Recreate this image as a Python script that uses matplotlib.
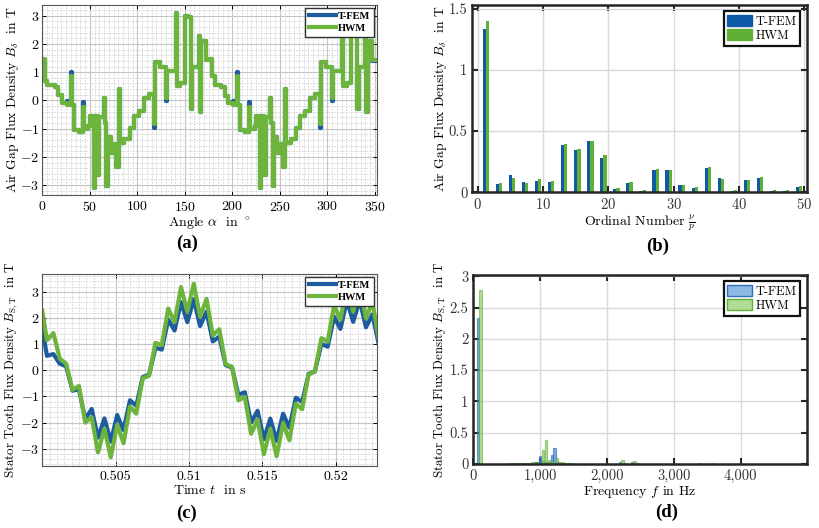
import matplotlib
matplotlib.use("Agg")
import matplotlib.pyplot as plt
import numpy as np
from matplotlib.ticker import AutoMinorLocator, FuncFormatter
from matplotlib.patches import Patch

plt.rcParams['font.family'] = ['cmr10', 'DejaVu Serif']
plt.rcParams['mathtext.fontset'] = 'cm'
plt.rcParams['axes.formatter.use_mathtext'] = True
plt.rcParams['font.size'] = 10

# (a) air gap flux density over the angle (step values)
alpha_deg = [0.0, 2.5, 5.0, 13.0, 16.8, 20.3, 26.0, 30.0, 31.2, 33.5, 38.5, 42.5, 43.7, 48.5,
             50.5, 54.0, 55.5, 58.5, 60.0, 64.5, 65.8, 67.5, 69.0, 72.5, 75.5, 78.0, 80.5,
             82.0, 86.5, 92.0, 96.5, 102.0, 107.0, 112.0, 117.5, 118.7, 124.0, 130.0, 131.3,
             140.5, 141.8, 145.5, 150.5, 153.5, 156.5, 158.0, 164.5, 166.0, 167.5, 172.5,
             175.0, 179.0, 182.0, 188.0, 192.0, 195.3, 201.0, 205.0, 206.2, 208.5, 213.5,
             217.5, 218.7, 223.5, 225.5, 229.0, 230.5, 233.5, 235.0, 239.5, 240.8, 242.5,
             244.0, 247.5, 250.5, 253.0, 255.5, 257.0, 261.5, 267.0, 271.5, 277.0, 282.0,
             287.0, 292.5, 293.7, 299.0, 305.0, 306.3, 315.5, 316.8, 320.5, 325.5, 328.5,
             331.5, 333.0, 339.5, 341.0, 342.5, 347.5, 352.0]
b_delta_hwm = [1.45, 0.70, 0.55, 0.48, 0.20, -0.08, -0.15, 0.85, -0.15, -1.05, -1.12, -0.25, -1.00, -0.90,
               -0.55, -3.10, -0.55, -2.65, -0.60, 0.10, -0.80, -3.02, -1.30, -1.85, -1.55, -2.37, 0.40,
               -1.50, -1.38, -0.98, -0.55, -0.37, 0.08, 0.22, -0.82, 1.35, 1.18, 0.10, 1.06,
               3.10, 0.50, 0.62, 2.98, 2.95, -0.30, 1.20, 2.30, -0.40, 2.12, 1.42,
               1.45, 0.85, 0.55, 0.46, 0.15, -0.08, -0.15, 0.85, -0.15, -1.05, -1.12,
               -0.25, -1.00, -0.90, -0.55, -3.10, -0.55, -2.65, -0.60, 0.10, -0.80, -3.02,
               -1.30, -1.85, -1.55, -2.37, 0.40, -1.50, -1.38, -0.98, -0.55, -0.37, 0.08,
               0.22, -0.82, 1.35, 1.18, 0.10, 1.06, 3.10, 0.50, 0.62, 2.98, 2.95,
               -0.30, 1.20, 2.30, -0.40, 2.12, 1.42, 1.42]
b_delta_fem = [1.40, 0.70, 0.55, 0.48, 0.20, -0.08, -0.02, 1.00, -0.15, -1.05, -1.12, -0.05, -1.00, -0.90,
               -0.55, -3.10, -0.55, -2.65, -0.60, 0.10, -0.80, -3.02, -1.30, -1.85, -1.55, -2.37, 0.40,
               -1.50, -1.38, -0.98, -0.55, -0.37, 0.08, 0.22, -0.98, 1.35, 1.18, -0.02, 1.06,
               3.10, 0.50, 0.62, 2.98, 2.95, -0.30, 1.20, 2.30, -0.40, 2.12, 1.42,
               1.45, 0.85, 0.55, 0.46, 0.15, -0.08, -0.02, 1.00, -0.15, -1.05, -1.12,
               -0.05, -1.00, -0.90, -0.55, -3.10, -0.55, -2.65, -0.60, 0.10, -0.80, -3.02,
               -1.30, -1.85, -1.55, -2.37, 0.40, -1.50, -1.38, -0.98, -0.55, -0.37, 0.08,
               0.22, -0.98, 1.35, 1.18, -0.02, 1.06, 3.10, 0.50, 0.62, 2.98, 2.95,
               -0.30, 1.20, 2.30, -0.40, 2.12, 1.38, 1.38]

# (b) harmonic spectrum of the air gap flux density
order_nu = [1, 3, 5, 7, 9, 11, 13, 15, 17, 19, 21, 23, 25, 27, 29, 31, 33, 35, 37, 39, 41, 43, 45, 47, 49]
amp_fem_b = [1.33, 0.066, 0.143, 0.082, 0.093, 0.085, 0.39, 0.346, 0.415, 0.283, 0.027, 0.077, 0.011,
             0.179, 0.184, 0.058, 0.038, 0.195, 0.118, 0.011, 0.102, 0.113, 0.011, 0.011, 0.041]
amp_hwm_b = [1.40, 0.08, 0.115, 0.077, 0.107, 0.093, 0.398, 0.354, 0.423, 0.308, 0.033, 0.082, 0.016,
             0.192, 0.184, 0.058, 0.041, 0.209, 0.11, 0.016, 0.102, 0.124, 0.016, 0.019, 0.052]

# (c) stator tooth flux density over time
t_sec = [0.50000, 0.50032, 0.50076, 0.50119, 0.50163, 0.50206, 0.50250, 0.50293, 0.50337, 0.50380,
         0.50424, 0.50467, 0.50511, 0.50554, 0.50598, 0.50641, 0.50685, 0.50728, 0.50772, 0.50815,
         0.50859, 0.50902, 0.50946, 0.50989, 0.51033, 0.51076, 0.51120, 0.51163, 0.51207, 0.51250,
         0.51294, 0.51337, 0.51381, 0.51424, 0.51468, 0.51511, 0.51555, 0.51598, 0.51642, 0.51685,
         0.51729, 0.51772, 0.51816, 0.51859, 0.51903, 0.51946, 0.51990, 0.52033, 0.52077, 0.52120,
         0.52164, 0.52207, 0.52251, 0.52294]
b_st_fem = [1.60, 0.55, 0.62, 0.25, 0.15, -0.78, -0.73, -1.87, -1.48, -2.58,
            -1.84, -2.73, -1.71, -2.29, -1.15, -1.36, -0.26, -0.17, 0.86, 0.79,
            1.94, 1.52, 2.61, 1.84, 2.72, 1.69, 2.24, 1.10, 1.29, 0.20,
            0.10, -0.94, -0.84, -2.00, -1.55, -2.64, -1.85, -2.70, -1.66, -2.20,
            -1.05, -1.22, -0.14, -0.04, 1.01, 0.90, 2.05, 1.58, 2.66, 1.85,
            2.69, 1.64, 2.14, 1.00]
b_st_hwm = [2.28, 1.15, 1.42, 0.45, 0.25, -0.75, -0.60, -2.00, -1.80, -3.14,
            -2.23, -3.33, -2.08, -2.79, -1.39, -1.66, -0.31, -0.21, 1.05, 0.96,
            2.36, 1.84, 3.18, 2.24, 3.31, 2.05, 2.73, 1.33, 1.57, 0.24,
            0.13, -1.15, -1.02, -2.43, -1.88, -3.21, -2.24, -3.29, -2.02, -2.68,
            -1.28, -1.49, -0.16, -0.05, 1.23, 1.09, 2.50, 1.93, 3.24, 2.25,
            3.28, 1.99, 2.61, 1.21]

# (d) spectrum of the stator tooth flux density
freq_fem = [68, 620, 710, 800, 880, 930, 960, 1000, 1045, 1090, 1130, 1175, 1215, 1260, 1300,
            2200, 2375, 2420]
amp_fem_d = [2.33, 0.01, 0.01, 0.015, 0.02, 0.025, 0.03, 0.13, 0.05, 0.04, 0.03, 0.15, 0.26, 0.04, 0.02,
             0.03, 0.035, 0.02]
freq_hwm = [105, 530, 575, 620, 660, 705, 750, 795, 840, 880, 925, 970, 1040, 1085, 1130, 1175, 1250,
            1300, 1345, 1390, 1435, 1480, 2235, 2280, 2410, 2455, 3390, 3570]
amp_hwm_d = [2.78, 0.01, 0.012, 0.015, 0.015, 0.015, 0.018, 0.02, 0.022, 0.025, 0.03, 0.04, 0.23, 0.39,
             0.06, 0.05, 0.09, 0.04, 0.03, 0.02, 0.015, 0.01, 0.065, 0.02, 0.045, 0.02, 0.012, 0.015]

BLUE = '#0f5aa6'
GREEN = '#5fb035'
LBLUE = '#1d5c9f'
LGREEN = '#6db43c'

fig = plt.figure(figsize=(8.19, 5.28), dpi=100)


def line_axes(ax):
    for s in ax.spines.values():
        s.set_color('#555555')
        s.set_linewidth(0.8)
    ax.xaxis.set_minor_locator(AutoMinorLocator(10))
    ax.yaxis.set_minor_locator(AutoMinorLocator(5))
    ax.grid(which='major', color='#c4c4c4', lw=0.8)
    ax.grid(which='minor', color='#d2d2d2', lw=0.6, ls=(0, (2, 1.5)))
    ax.tick_params(which='both', direction='in', top=True, right=True, labelsize=10)
    ax.tick_params(which='major', length=3, width=0.7)
    ax.tick_params(axis='y', pad=2)
    ax.tick_params(which='minor', length=0)
    ax.set_axisbelow(True)
    leg = ax.legend(loc='upper right', prop=dict(family='Liberation Serif', weight='bold', size=7.5),
                    fancybox=False, edgecolor='#333333', framealpha=1, handlelength=2.6,
                    borderpad=0.35, labelspacing=0.3, borderaxespad=0.25, handletextpad=0.2)
    leg.get_frame().set_linewidth(1.0)


def bar_axes(ax, handles):
    for s in ax.spines.values():
        s.set_color('#262626')
        s.set_linewidth(1.8)
    ax.grid(which='major', color='#d9d9d9', lw=1.0)
    ax.set_axisbelow(True)
    ax.tick_params(direction='in', top=True, right=True, length=4, width=1.5, labelsize=10.5,
                   colors='#262626', labelcolor='#333333')
    leg = ax.legend(handles=handles, loc='upper right', fontsize=9, fancybox=False,
                    edgecolor='#111111', framealpha=1, handlelength=2.0, handleheight=1.0,
                    borderpad=0.3, labelspacing=0.1, borderaxespad=0.5, handletextpad=0.25)
    leg.get_frame().set_linewidth(1.6)


gfmt = FuncFormatter(lambda v, p: '%g' % v)

# (a)
ax = fig.add_axes([0.0516, 0.6307, 0.4083, 0.3598])
ax.plot(alpha_deg, b_delta_fem, drawstyle='steps-post', color=LBLUE, lw=3.0, label='T-FEM')
ax.plot(alpha_deg, b_delta_hwm, drawstyle='steps-post', color=LGREEN, lw=3.0, label='HWM')
ax.set_xlim(0, 352)
ax.set_ylim(-3.35, 3.38)
ax.set_xticks([0, 50, 100, 150, 200, 250, 300, 350])
ax.set_yticks([-3, -2, -1, 0, 1, 2, 3])
ax.set_xlabel(r'Angle $\alpha$  in $^\circ$', labelpad=1)
ax.set_ylabel(r'Air Gap Flux Density $B_\delta$  in T', fontsize=9.8)
ax.yaxis.set_label_coords(-0.064, 0.5)
line_axes(ax)

# (b)
ax = fig.add_axes([0.5767, 0.6358, 0.4083, 0.3547])
nu = np.array(order_nu)
ax.bar(nu, amp_fem_b, width=0.5, color=BLUE)
ax.bar(nu + 0.5, amp_hwm_b, width=0.5, color=GREEN)
ax.set_xlim(-0.83, 50.4)
ax.set_ylim(0, 1.53)
ax.set_xticks([0, 10, 20, 30, 40, 50])
ax.set_yticks([0, 0.5, 1, 1.5])
ax.yaxis.set_major_formatter(gfmt)
ax.set_xlabel(r'Ordinal Number $\frac{\nu}{p}$', labelpad=1)
ax.set_ylabel(r'Air Gap Flux Density $B_\delta$  in T', fontsize=9.8)
ax.yaxis.set_label_coords(-0.07, 0.5)
bar_axes(ax, [Patch(color=BLUE, label='T-FEM'), Patch(color=GREEN, label='HWM')])

# (c)
ax = fig.add_axes([0.0516, 0.118, 0.4083, 0.363])
ax.plot(t_sec, b_st_fem, color=LBLUE, lw=3.0, label='T-FEM')
ax.plot(t_sec, b_st_hwm, color=LGREEN, lw=3.0, label='HWM')
ax.set_xlim(0.5, 0.5228)
ax.set_ylim(-3.65, 3.68)
ax.set_xticks([0.505, 0.51, 0.515, 0.52])
ax.xaxis.set_major_formatter(gfmt)
ax.set_yticks([-3, -2, -1, 0, 1, 2, 3])
ax.set_xlabel(r'Time $t$  in s', labelpad=1)
ax.set_ylabel(r'Stator Tooth Flux Density $B_\mathrm{S,T}$  in T', fontsize=9.3)
ax.yaxis.set_label_coords(-0.068, 0.5)
line_axes(ax)

# (d)
ax = fig.add_axes([0.5779, 0.1212, 0.4071, 0.358])
ax.bar(freq_fem, amp_fem_d, width=36, color='#3b7cc4', alpha=0.65, edgecolor='#2f6fb8', lw=0.8)
ax.bar(freq_hwm, amp_hwm_d, width=36, color='#7cc453', alpha=0.6, edgecolor='#5fb035', lw=0.8)
ax.set_xlim(0, 4990)
ax.set_ylim(0, 3.02)
ax.set_xticks([0, 1000, 2000, 3000, 4000])
ax.xaxis.set_major_formatter(FuncFormatter(lambda v, p: '{:,}'.format(int(v))))
ax.set_yticks([0, 0.5, 1, 1.5, 2, 2.5, 3])
ax.yaxis.set_major_formatter(gfmt)
ax.set_xlabel(r'Frequency $f$ in Hz', labelpad=1)
ax.set_ylabel(r'Stator Tooth Flux Density $B_\mathrm{S,T}$  in T', fontsize=9.3)
ax.yaxis.set_label_coords(-0.073, 0.5)
bar_axes(ax, [Patch(facecolor='#8db8e3', edgecolor='#2f6fb8', label='T-FEM'),
              Patch(facecolor='#b0dc97', edgecolor='#5fb035', label='HWM')])

for lab, x, y in [('(a)', 0.228, 0.540), ('(b)', 0.803, 0.534), ('(c)', 0.228, 0.028), ('(d)', 0.814, 0.030)]:
    fig.text(x, y, lab, ha='center', va='center', family='Liberation Serif', weight='bold', size=13.5)

fig.savefig('out.png', dpi=100)
